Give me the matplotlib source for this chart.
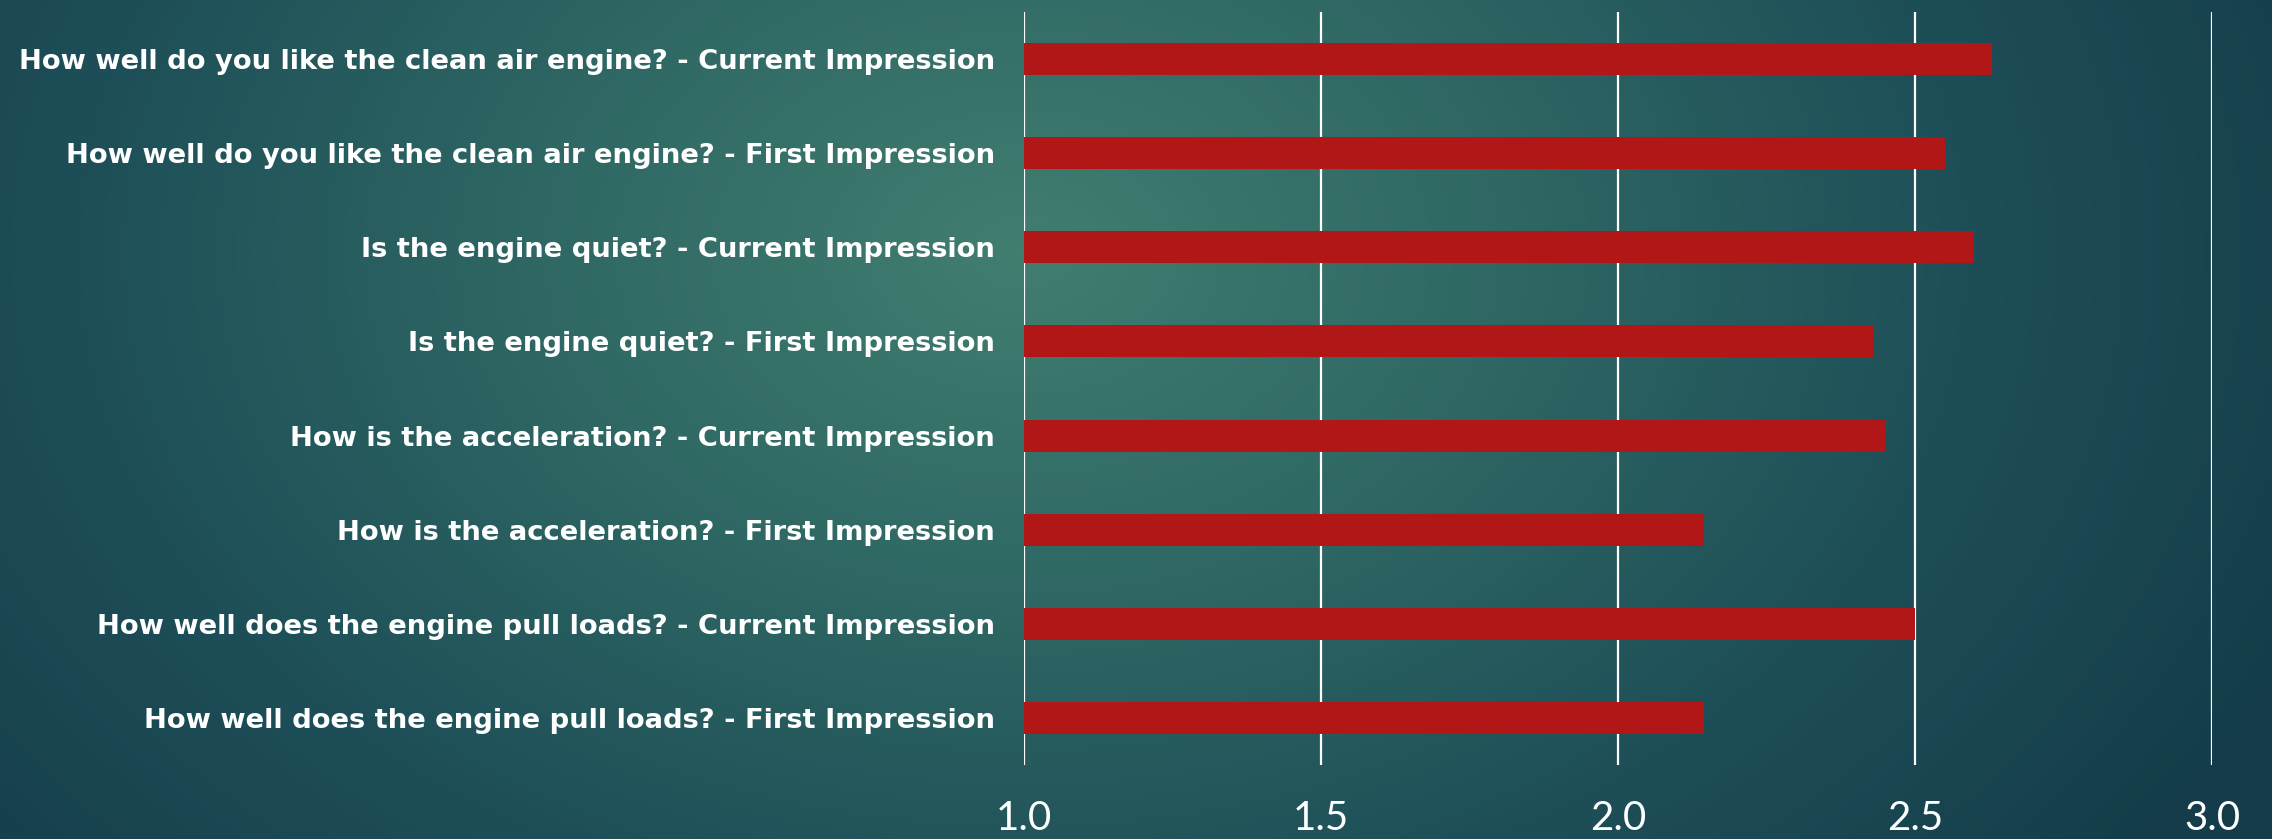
import numpy as np
import matplotlib.pyplot as plt
from matplotlib.colors import LinearSegmentedColormap

labels = [
    "How well do you like the clean air engine? - Current Impression",
    "How well do you like the clean air engine? - First Impression",
    "Is the engine quiet? - Current Impression",
    "Is the engine quiet? - First Impression",
    "How is the acceleration? - Current Impression",
    "How is the acceleration? - First Impression",
    "How well does the engine pull loads? - Current Impression",
    "How well does the engine pull loads? - First Impression",
]
values = [2.63, 2.55, 2.60, 2.43, 2.45, 2.145, 2.50, 2.145]
ticks = [1.0, 1.5, 2.0, 2.5, 3.0]

fig = plt.figure(figsize=(22.72, 8.39), dpi=100)

# background gradient
bg = fig.add_axes([0, 0, 1, 1])
xx, yy = np.meshgrid(np.linspace(0, 1, 600), np.linspace(0, 1, 240))
d = np.sqrt(((xx - 0.45) / 0.62) ** 2 + ((yy - 0.3) / 1.2) ** 2)
d = np.clip(d, 0, 1)
cmap = LinearSegmentedColormap.from_list("bg", ["#417e70", "#2f6864", "#1e4f58", "#143c4a"])
bg.imshow(d, cmap=cmap, aspect="auto", extent=[0, 1, 1, 0], interpolation="bilinear")
bg.axis("off")

ax = fig.add_axes([0.4507, 0.088, 0.5229, 0.898])
ax.patch.set_alpha(0)
y = np.arange(len(labels))
ax.barh(y, [v - 1.0 for v in values], left=1.0, height=0.34, color="#b01716", zorder=3)
ax.set_xlim(1.0, 3.0)
ax.set_ylim(len(labels) - 0.5, -0.5)
ax.set_xticks(ticks)
ax.set_xticklabels([f"{t:.1f}" for t in ticks], fontsize=29, color="white",
                   family=["Lato", "DejaVu Sans"])
ax.set_yticks(y)
ax.set_yticklabels(labels, fontsize=19.7, color="white",
                   family=["DejaVu Sans"], fontweight="bold")
ax.tick_params(axis="both", length=0)
ax.tick_params(axis="x", pad=25)
ax.tick_params(axis="y", pad=21)
ax.grid(axis="x", color="white", linewidth=1.6, zorder=1)
for s in ax.spines.values():
    s.set_visible(False)

fig.savefig("out.png", dpi=100)
